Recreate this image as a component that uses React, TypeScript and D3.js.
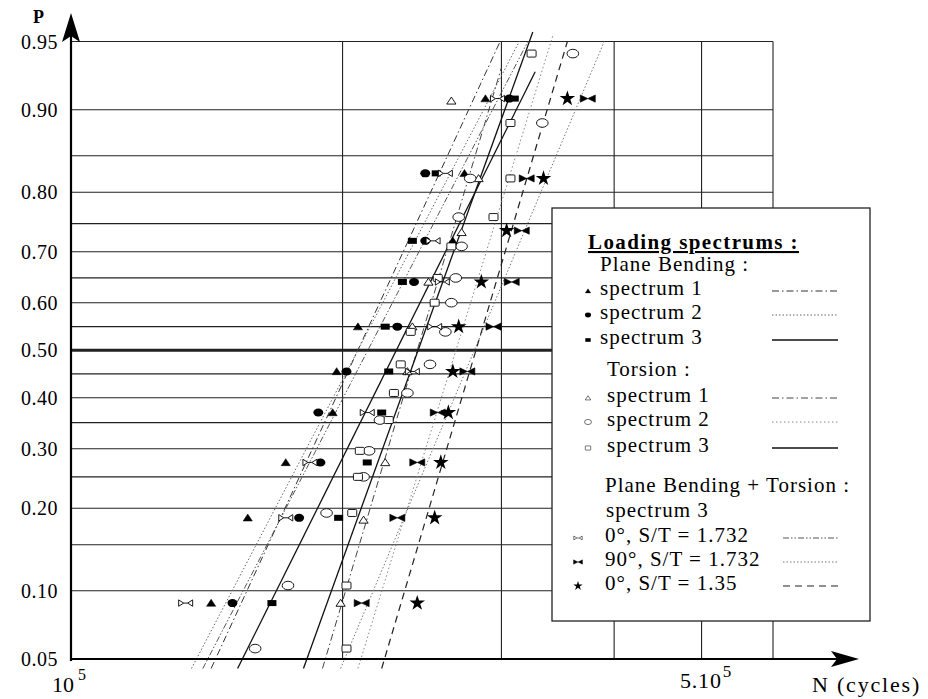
import React, { useEffect, useRef } from 'react';
import * as d3 from 'd3';

// probability paper grid
const gridProbs = [0.05, 0.1, 0.15, 0.2, 0.25, 0.3, 0.35, 0.4, 0.45, 0.5, 0.55, 0.6, 0.65, 0.7, 0.75, 0.8, 0.85, 0.9, 0.95];
const probLabels = [0.05, 0.1, 0.2, 0.3, 0.4, 0.5, 0.6, 0.7, 0.8, 0.9, 0.95];
const cycleGrid = [200000, 300000, 400000, 500000, 600000];

// [kilocycles, probability]
const pbSpectrum1 = [[143, 0.089], [157, 0.186], [173, 0.275], [195, 0.37], [197, 0.455], [208, 0.55], [265, 0.72], [273, 0.827], [288, 0.91]];
const pbSpectrum2 = [[151, 0.089], [179, 0.186], [189, 0.275], [188, 0.37], [202, 0.455], [230, 0.55], [240, 0.642], [247, 0.72], [247, 0.827], [306, 0.91]];
const pbSpectrum3 = [[167, 0.089], [198, 0.186], [213, 0.275], [221, 0.37], [225, 0.455], [223, 0.55], [233, 0.642], [239, 0.72], [254, 0.827], [310, 0.91]];
const tSpectrum1 = [[199, 0.089], [211, 0.183], [223, 0.275], [236, 0.455], [239, 0.55], [249, 0.642], [271, 0.735], [283, 0.82], [264, 0.908]];
const tSpectrum2 = [[160, 0.056], [174, 0.105], [192, 0.193], [211, 0.25], [214, 0.296], [220, 0.355], [236, 0.41], [250, 0.47], [260, 0.539], [264, 0.6], [267, 0.65], [271, 0.71], [269, 0.761], [277, 0.82], [333, 0.887], [360, 0.943]];
const tSpectrum3 = [[202, 0.056], [202, 0.105], [205, 0.193], [208, 0.25], [209, 0.296], [225, 0.355], [228, 0.41], [232, 0.47], [238, 0.539], [253, 0.6], [255, 0.65], [264, 0.71], [294, 0.761], [307, 0.82], [307, 0.887], [324, 0.943]];
const combo0deg = [[134, 0.089], [173, 0.186], [184, 0.275], [213, 0.37], [239, 0.455], [253, 0.55], [258, 0.642], [252, 0.72], [260, 0.827], [297, 0.91]];
const combo90deg = [[210, 0.089], [230, 0.186], [242, 0.275], [255, 0.37], [275, 0.455], [294, 0.55], [308, 0.642], [316, 0.738], [320, 0.82], [374, 0.91]];
const combo135 = [[242, 0.089], [253, 0.186], [257, 0.275], [262, 0.37], [265, 0.455], [269, 0.55], [285, 0.642], [304, 0.738], [334, 0.82], [355, 0.91]];

// fitted lines: [kilocycles, probability] at each end
const fitLines = [
  { key: 'pb1', from: [143, 0.045], to: [299, 0.95] },
  { key: 'pb2', from: [136, 0.045], to: [314, 0.95] },
  { key: 'pb3', from: [153, 0.045], to: [327, 0.931] },
  { key: 't1', from: [190, 0.045], to: [300, 0.934] },
  { key: 't2', from: [208, 0.045], to: [342, 0.953] },
  { key: 't3', from: [181, 0.045], to: [325, 0.955] },
  { key: 'c0', from: [140, 0.045], to: [321, 0.95] },
  { key: 'c90', from: [199, 0.045], to: [390, 0.95] },
  { key: 'c135', from: [221, 0.045], to: [355, 0.95] },
];

const seriesList = [
  { key: 'pb1', pts: pbSpectrum1, marker: 'triFilled' },
  { key: 'pb2', pts: pbSpectrum2, marker: 'dotFilled' },
  { key: 'pb3', pts: pbSpectrum3, marker: 'sqFilled' },
  { key: 't1', pts: tSpectrum1, marker: 'triOpen' },
  { key: 't2', pts: tSpectrum2, marker: 'circOpen' },
  { key: 't3', pts: tSpectrum3, marker: 'sqOpen' },
  { key: 'c0', pts: combo0deg, marker: 'bowOpen' },
  { key: 'c90', pts: combo90deg, marker: 'bowFilled' },
  { key: 'c135', pts: combo135, marker: 'star' },
];

const lineStyle: Record<string, { dash: string; stroke: string; width: number }> = {
  pb1: { dash: '7,3,1.5,3', stroke: '#333', width: 1 },
  pb2: { dash: '1.5,2', stroke: '#666', width: 1 },
  pb3: { dash: '', stroke: '#111', width: 1.3 },
  t1: { dash: '7,3,1.5,3', stroke: '#444', width: 1 },
  t2: { dash: '1.5,2.5', stroke: '#888', width: 1 },
  t3: { dash: '', stroke: '#111', width: 1.3 },
  c0: { dash: '6,2,1.5,2,1.5,2', stroke: '#555', width: 1 },
  c90: { dash: '1.5,2', stroke: '#777', width: 1 },
  c135: { dash: '7,5', stroke: '#222', width: 1.2 },
};

const legendGroups = [
  { title: 'Plane Bending :', titleY: 264, textX: 600, markX: 588, items: [
    { key: 'pb1', marker: 'triFilled', label: 'spectrum 1', y: 288 },
    { key: 'pb2', marker: 'dotFilled', label: 'spectrum 2', y: 312 },
    { key: 'pb3', marker: 'sqFilled', label: 'spectrum 3', y: 337 },
  ] },
  { title: 'Torsion :', titleY: 369, textX: 607, markX: 588, items: [
    { key: 't1', marker: 'triOpen', label: 'spectrum 1', y: 395 },
    { key: 't2', marker: 'circOpen', label: 'spectrum 2', y: 419 },
    { key: 't3', marker: 'sqOpen', label: 'spectrum 3', y: 445 },
  ] },
  { title: 'Plane Bending + Torsion :', titleY: 485, textX: 605, markX: 578, items: [
    { key: 'c0', marker: 'bowOpen', label: '0°, S/T = 1.732', y: 535 },
    { key: 'c90', marker: 'bowFilled', label: '90°, S/T = 1.732', y: 559 },
    { key: 'c135', marker: 'star', label: '0°, S/T = 1.35', y: 583 },
  ] },
];

// inverse normal CDF (Acklam)
function probit(p: number) {
  const a = [-39.69683028665376, 220.9460984245205, -275.9285104469687, 138.357751867269, -30.66479806614716, 2.506628277459239];
  const b = [-54.47609879822406, 161.5858368580409, -155.6989798598866, 66.80131188771972, -13.28068155288572];
  const c = [-0.007784894002430293, -0.3223964580411365, -2.400758277161838, -2.549732539343734, 4.374664141464968, 2.938163982698783];
  const d = [0.007784695709041462, 0.3224671290700398, 2.445134137142996, 3.754408661907416];
  const plow = 0.02425;
  if (p < plow) {
    const q = Math.sqrt(-2 * Math.log(p));
    return (((((c[0] * q + c[1]) * q + c[2]) * q + c[3]) * q + c[4]) * q + c[5]) / ((((d[0] * q + d[1]) * q + d[2]) * q + d[3]) * q + 1);
  }
  if (p > 1 - plow) {
    const q = Math.sqrt(-2 * Math.log(1 - p));
    return -(((((c[0] * q + c[1]) * q + c[2]) * q + c[3]) * q + c[4]) * q + c[5]) / ((((d[0] * q + d[1]) * q + d[2]) * q + d[3]) * q + 1);
  }
  const q = p - 0.5;
  const r = q * q;
  return (((((a[0] * r + a[1]) * r + a[2]) * r + a[3]) * r + a[4]) * r + a[5]) * q / (((((b[0] * r + b[1]) * r + b[2]) * r + b[3]) * r + b[4]) * r + 1);
}

const FONT = '"Liberation Serif", "Times New Roman", serif';

function drawMarker(g: any, kind: string, cx: number, cy: number, s = 1) {
  const m = g.append('g').attr('transform', `translate(${cx},${cy}) scale(${s})`);
  if (kind === 'triFilled' || kind === 'triOpen') {
    m.append('path').attr('d', 'M0,-3.8L4.6,3.2L-4.6,3.2Z')
      .attr('fill', kind === 'triFilled' ? '#000' : '#fff')
      .attr('stroke', '#000').attr('stroke-width', kind === 'triFilled' ? 0.5 : 0.9);
  } else if (kind === 'dotFilled') {
    m.append('ellipse').attr('rx', 5).attr('ry', 4).attr('fill', '#000');
  } else if (kind === 'circOpen') {
    m.append('ellipse').attr('rx', 5.8).attr('ry', 4.3).attr('fill', '#fff').attr('stroke', '#000').attr('stroke-width', 0.9);
  } else if (kind === 'sqFilled') {
    m.append('rect').attr('x', -4.5).attr('y', -3).attr('width', 9).attr('height', 6).attr('fill', '#000');
  } else if (kind === 'sqOpen') {
    m.append('rect').attr('x', -4.5).attr('y', -3.5).attr('width', 9).attr('height', 7).attr('rx', 1)
      .attr('fill', '#fff').attr('stroke', '#000').attr('stroke-width', 0.9);
  } else if (kind === 'bowOpen') {
    m.append('path').attr('d', 'M-7,-3.2L-2,0L-7,3.2Z M7,-3.2L2,0L7,3.2Z M-2,0L2,0')
      .attr('fill', '#fff').attr('stroke', '#000').attr('stroke-width', 0.9);
  } else if (kind === 'bowFilled') {
    m.append('path').attr('d', 'M-7.5,-3.6L0,0L-7.5,3.6Z M7.5,-3.6L0,0L7.5,3.6Z')
      .attr('fill', '#000').attr('stroke', '#000').attr('stroke-width', 0.6);
  } else if (kind === 'star') {
    m.append('path').attr('d', d3.symbol().type(d3.symbolStar).size(75)()).attr('fill', '#000');
  }
}

export default function App() {
  const svgRef = useRef<SVGSVGElement>(null);
  const width = 928;
  const height = 699;
  const margin = { left: 71, right: 773, top: 41.5, bottom: 659 };

  useEffect(() => {
    const svg = d3.select(svgRef.current);
    svg.selectAll('*').remove();

    const x = d3.scaleLog().domain([100000, 600000]).range([margin.left, margin.right]);
    const zScale = d3.scaleLinear().domain([probit(0.05), probit(0.95)]).range([margin.bottom, margin.top]);
    const y = (p: number) => zScale(probit(p));

    svg.append('rect').attr('width', width).attr('height', height).attr('fill', '#fff');

    // horizontal grid
    svg.append('g').selectAll('line')
      .data(gridProbs)
      .enter()
      .append('line')
      .attr('x1', margin.left)
      .attr('x2', margin.right)
      .attr('y1', d => y(d))
      .attr('y2', d => y(d))
      .attr('stroke', '#222')
      .attr('stroke-width', d => (d === 0.5 ? 3 : d === 0.05 ? 2.2 : 1.1));

    // vertical grid
    svg.append('g').selectAll('line')
      .data(cycleGrid)
      .enter()
      .append('line')
      .attr('x1', d => x(d))
      .attr('x2', d => x(d))
      .attr('y1', margin.top)
      .attr('y2', margin.bottom)
      .attr('stroke', '#222')
      .attr('stroke-width', 1.1);

    // fitted lines
    svg.append('g').selectAll('line')
      .data(fitLines)
      .enter()
      .append('line')
      .attr('x1', d => x(d.from[0] * 1000))
      .attr('y1', d => y(d.from[1]))
      .attr('x2', d => x(d.to[0] * 1000))
      .attr('y2', d => y(d.to[1]))
      .attr('stroke', d => lineStyle[d.key].stroke)
      .attr('stroke-width', d => lineStyle[d.key].width)
      .attr('stroke-dasharray', d => lineStyle[d.key].dash || null);

    // points
    const pts = svg.append('g');
    seriesList.forEach(s => {
      s.pts.forEach(([n, p]) => drawMarker(pts, s.marker, x(n * 1000), y(p)));
    });

    // axes
    svg.append('line')
      .attr('x1', margin.left).attr('x2', margin.left)
      .attr('y1', margin.bottom + 2).attr('y2', 20)
      .attr('stroke', '#000').attr('stroke-width', 2.2);
    svg.append('path')
      .attr('d', `M${margin.left},13L${margin.left + 9},42L${margin.left},36L${margin.left - 9},42Z`)
      .attr('fill', '#000');
    svg.append('line')
      .attr('x1', margin.left).attr('x2', 850)
      .attr('y1', margin.bottom).attr('y2', margin.bottom)
      .attr('stroke', '#000').attr('stroke-width', 2.2);
    svg.append('path')
      .attr('d', `M859,${margin.bottom}L831,${margin.bottom - 8}L837,${margin.bottom}L831,${margin.bottom + 8}Z`)
      .attr('fill', '#000');

    // y tick labels
    svg.append('g').selectAll('text')
      .data(probLabels)
      .enter()
      .append('text')
      .attr('x', 58)
      .attr('y', d => y(d))
      .attr('dy', '0.35em')
      .attr('text-anchor', 'end')
      .attr('font-family', FONT)
      .attr('font-size', 20)
      .attr('letter-spacing', 0.5)
      .text(d => d.toFixed(2));

    svg.append('text')
      .attr('x', 33).attr('y', 23)
      .attr('font-family', FONT).attr('font-size', 18).attr('font-weight', 'bold')
      .text('P');

    // x labels
    const xl = svg.append('g').attr('font-family', FONT);
    const t1 = xl.append('text').attr('x', 52).attr('y', 692).attr('font-size', 22).text('10');
    t1.append('tspan').attr('dx', 4).attr('dy', -12).attr('font-size', 16).text('5');
    const t2 = xl.append('text').attr('x', 680).attr('y', 688).attr('font-size', 22).attr('letter-spacing', 0.8).text('5.10');
    t2.append('tspan').attr('dx', 1).attr('dy', -11).attr('font-size', 17).text('5');
    xl.append('text').attr('x', 812).attr('y', 692).attr('font-size', 22).attr('letter-spacing', 1.8).text('N (cycles)');

    // legend
    const lg = svg.append('g').attr('font-family', FONT).attr('font-size', 21).attr('letter-spacing', 1);
    lg.append('rect')
      .attr('x', 552).attr('y', 208).attr('width', 318).attr('height', 413)
      .attr('fill', '#fff').attr('stroke', '#222').attr('stroke-width', 1.3);
    lg.append('text')
      .attr('x', 588).attr('y', 249)
      .attr('font-weight', 'bold').attr('text-decoration', 'underline')
      .attr('letter-spacing', 1.4)
      .text('Loading spectrums :');

    legendGroups.forEach(grp => {
      lg.append('text').attr('x', grp.textX).attr('y', grp.titleY + 7).text(grp.title);
      grp.items.forEach(it => {
        drawMarker(lg, it.marker, grp.markX, it.y + 3, 0.6);
        lg.append('text').attr('x', grp.textX).attr('y', it.y + 7).text(it.label);
        const st = lineStyle[it.key];
        lg.append('line')
          .attr('x1', grp.markX === 578 ? 783 : 772).attr('x2', 838)
          .attr('y1', it.y + 3).attr('y2', it.y + 3)
          .attr('stroke', st.stroke).attr('stroke-width', st.width)
          .attr('stroke-dasharray', st.dash || null);
      });
    });
    lg.append('text').attr('x', 606).attr('y', 517).text('spectrum 3');
  }, []);

  return (
    <svg
      ref={svgRef}
      width={width}
      height={height}
      style={{ position: 'absolute', left: 0, top: 0, display: 'block' }}
    ></svg>
  );
}
